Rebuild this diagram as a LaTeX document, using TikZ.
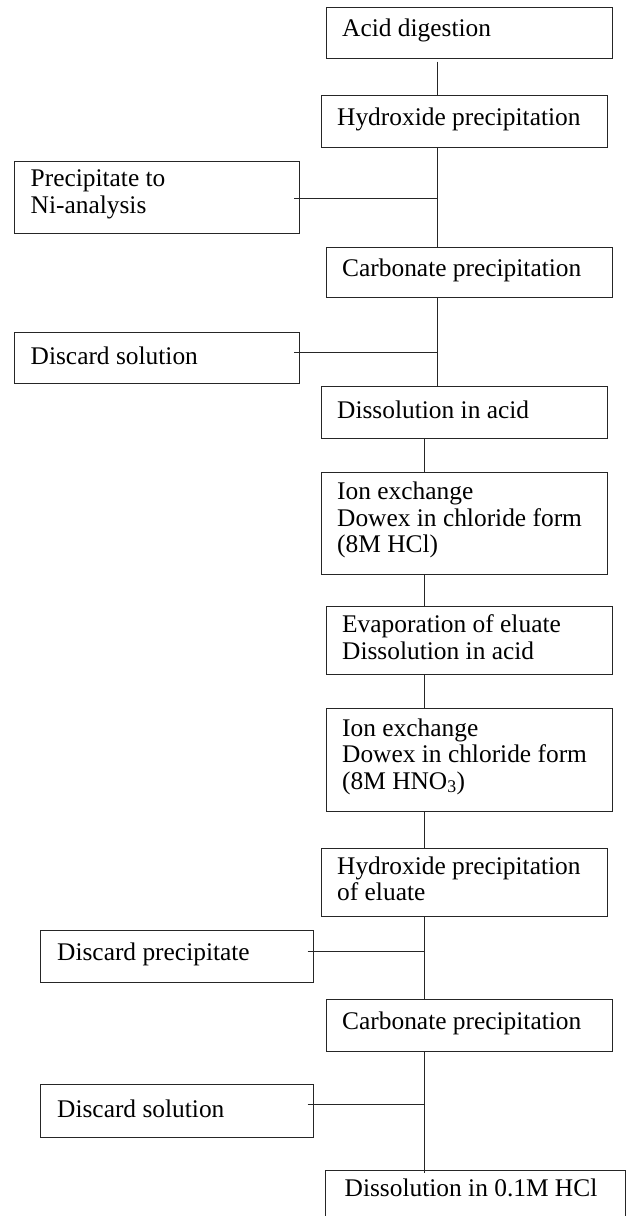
\documentclass[tikz,border=0pt]{standalone}
\usepackage{fontspec}
\setmainfont{Liberation Serif}
\usetikzlibrary{calc}
\begin{document}
\begin{tikzpicture}[x=1pt,y=-1pt,
  stepbox/.style={draw=black!85,line width=1pt,rectangle,inner sep=0pt},
  steptext/.style={anchor=west,align=left,inner sep=0pt,font=\fontsize{25.4}{26.5}\selectfont},
  link/.style={draw=black!85,line width=1pt}]
\useasboundingbox (0,0) rectangle (626,1216);
\clip (0,0) rectangle (626,1216);
\fill[white] (0,0) rectangle (626,1216);
% boxes: centre, width, height
\node[stepbox,minimum width=286pt,minimum height=51pt] (acid)  at (469,32.5) {};
\node[stepbox,minimum width=286pt,minimum height=52pt] (hyd)   at (464,121) {};
\node[stepbox,minimum width=285pt,minimum height=72pt] (ni)    at (157,197.5) {};
\node[stepbox,minimum width=286pt,minimum height=50pt] (carb)  at (469,272) {};
\node[stepbox,minimum width=285pt,minimum height=51pt] (disc1) at (157,357.5) {};
\node[stepbox,minimum width=286pt,minimum height=52pt] (dis)   at (464,412) {};
\node[stepbox,minimum width=286pt,minimum height=102pt] (ion1) at (464,523) {};
\node[stepbox,minimum width=286pt,minimum height=68pt] (evap)  at (469,640) {};
\node[stepbox,minimum width=286pt,minimum height=103pt] (ion2) at (469,759.5) {};
\node[stepbox,minimum width=286pt,minimum height=68pt] (hyd2)  at (464,882) {};
\node[stepbox,minimum width=273pt,minimum height=52pt] (discp) at (176.5,956) {};
\node[stepbox,minimum width=286pt,minimum height=52pt] (carb2) at (469,1025) {};
\node[stepbox,minimum width=273pt,minimum height=53pt] (disc2) at (176.5,1110.5) {};
\node[stepbox,minimum width=300pt,minimum height=80pt] (fin)   at (475,1210) {};
% texts
\node[steptext] (acidt)  at ([xshift=16.5pt,yshift=2pt]acid.west)  {Acid digestion};
\node[steptext] (hydt)   at ([xshift=16.5pt,yshift=2pt]hyd.west)   {Hydroxide precipitation};
\node[steptext] (nit)    at ([xshift=16.5pt,yshift=3pt]ni.west)    {Precipitate to\\Ni-analysis};
\node[steptext] (carbt)  at ([xshift=16.5pt,yshift=2pt]carb.west)  {Carbonate precipitation};
\node[steptext] (disc1t) at ([xshift=16.5pt,yshift=2pt]disc1.west) {Discard solution};
\node[steptext] (dist)   at ([xshift=16.5pt,yshift=2pt]dis.west)   {Dissolution in acid};
\node[steptext] (ion1t)  at ([xshift=16.5pt,yshift=3pt]ion1.west)  {Ion exchange\\Dowex in chloride form\\(8M HCl)};
\node[steptext] (evapt)  at ([xshift=16.5pt,yshift=3pt]evap.west)  {Evaporation of eluate\\Dissolution in acid};
\node[steptext] (ion2t)  at ([xshift=16.5pt,yshift=3pt]ion2.west)  {Ion exchange\\Dowex in chloride form\\(8M HNO\textsubscript{3})};
\node[steptext] (hyd2t)  at ([xshift=16.5pt,yshift=3pt]hyd2.west)  {Hydroxide precipitation\\of eluate};
\node[steptext] (discpt) at ([xshift=17.5pt,yshift=2pt]discp.west) {Discard precipitate};
\node[steptext] (carb2t) at ([xshift=16.5pt,yshift=2pt]carb2.west) {Carbonate precipitation};
\node[steptext] (disc2t) at ([xshift=17.5pt,yshift=2pt]disc2.west) {Discard solution};
\node[steptext,anchor=base west] (fint) at ($(fin.north west)+(20,27)$) {Dissolution in 0.1M HCl};
% trunk coordinates
\coordinate (tA) at (437.5,0);
\coordinate (tB) at (424.5,0);
\coordinate (jni) at (437.5,198);
\coordinate (jd1) at (437.5,352);
\coordinate (jdp) at (424.5,951);
\coordinate (jd2) at (424.5,1104);
% vertical connectors
\draw[link] ($(acid.south -| tA)+(0,3)$) -- (hyd.north -| tA);
\draw[link] (hyd.south -| tA) -- (carb.north -| tA);
\draw[link] (carb.south -| tA) -- (dis.north -| tA);
\draw[link] (dis.south -| tB) -- (ion1.north -| tB);
\draw[link] (ion1.south -| tB) -- (evap.north -| tB);
\draw[link] (evap.south -| tB) -- (ion2.north -| tB);
\draw[link] (ion2.south -| tB) -- (hyd2.north -| tB);
\draw[link] (hyd2.south -| tB) -- (carb2.north -| tB);
\draw[link] (carb2.south -| tB) -- ($(fin.north -| tB)+(0,3)$);
% side connectors
\draw[link] ($(jni -| ni.east)+(-6,0)$) -- (jni);
\draw[link] ($(jd1 -| disc1.east)+(-6,0)$) -- (jd1);
\draw[link] ($(jdp -| discp.east)+(-6,0)$) -- (jdp);
\draw[link] ($(jd2 -| disc2.east)+(-6,0)$) -- (jd2);
\end{tikzpicture}
\end{document}
